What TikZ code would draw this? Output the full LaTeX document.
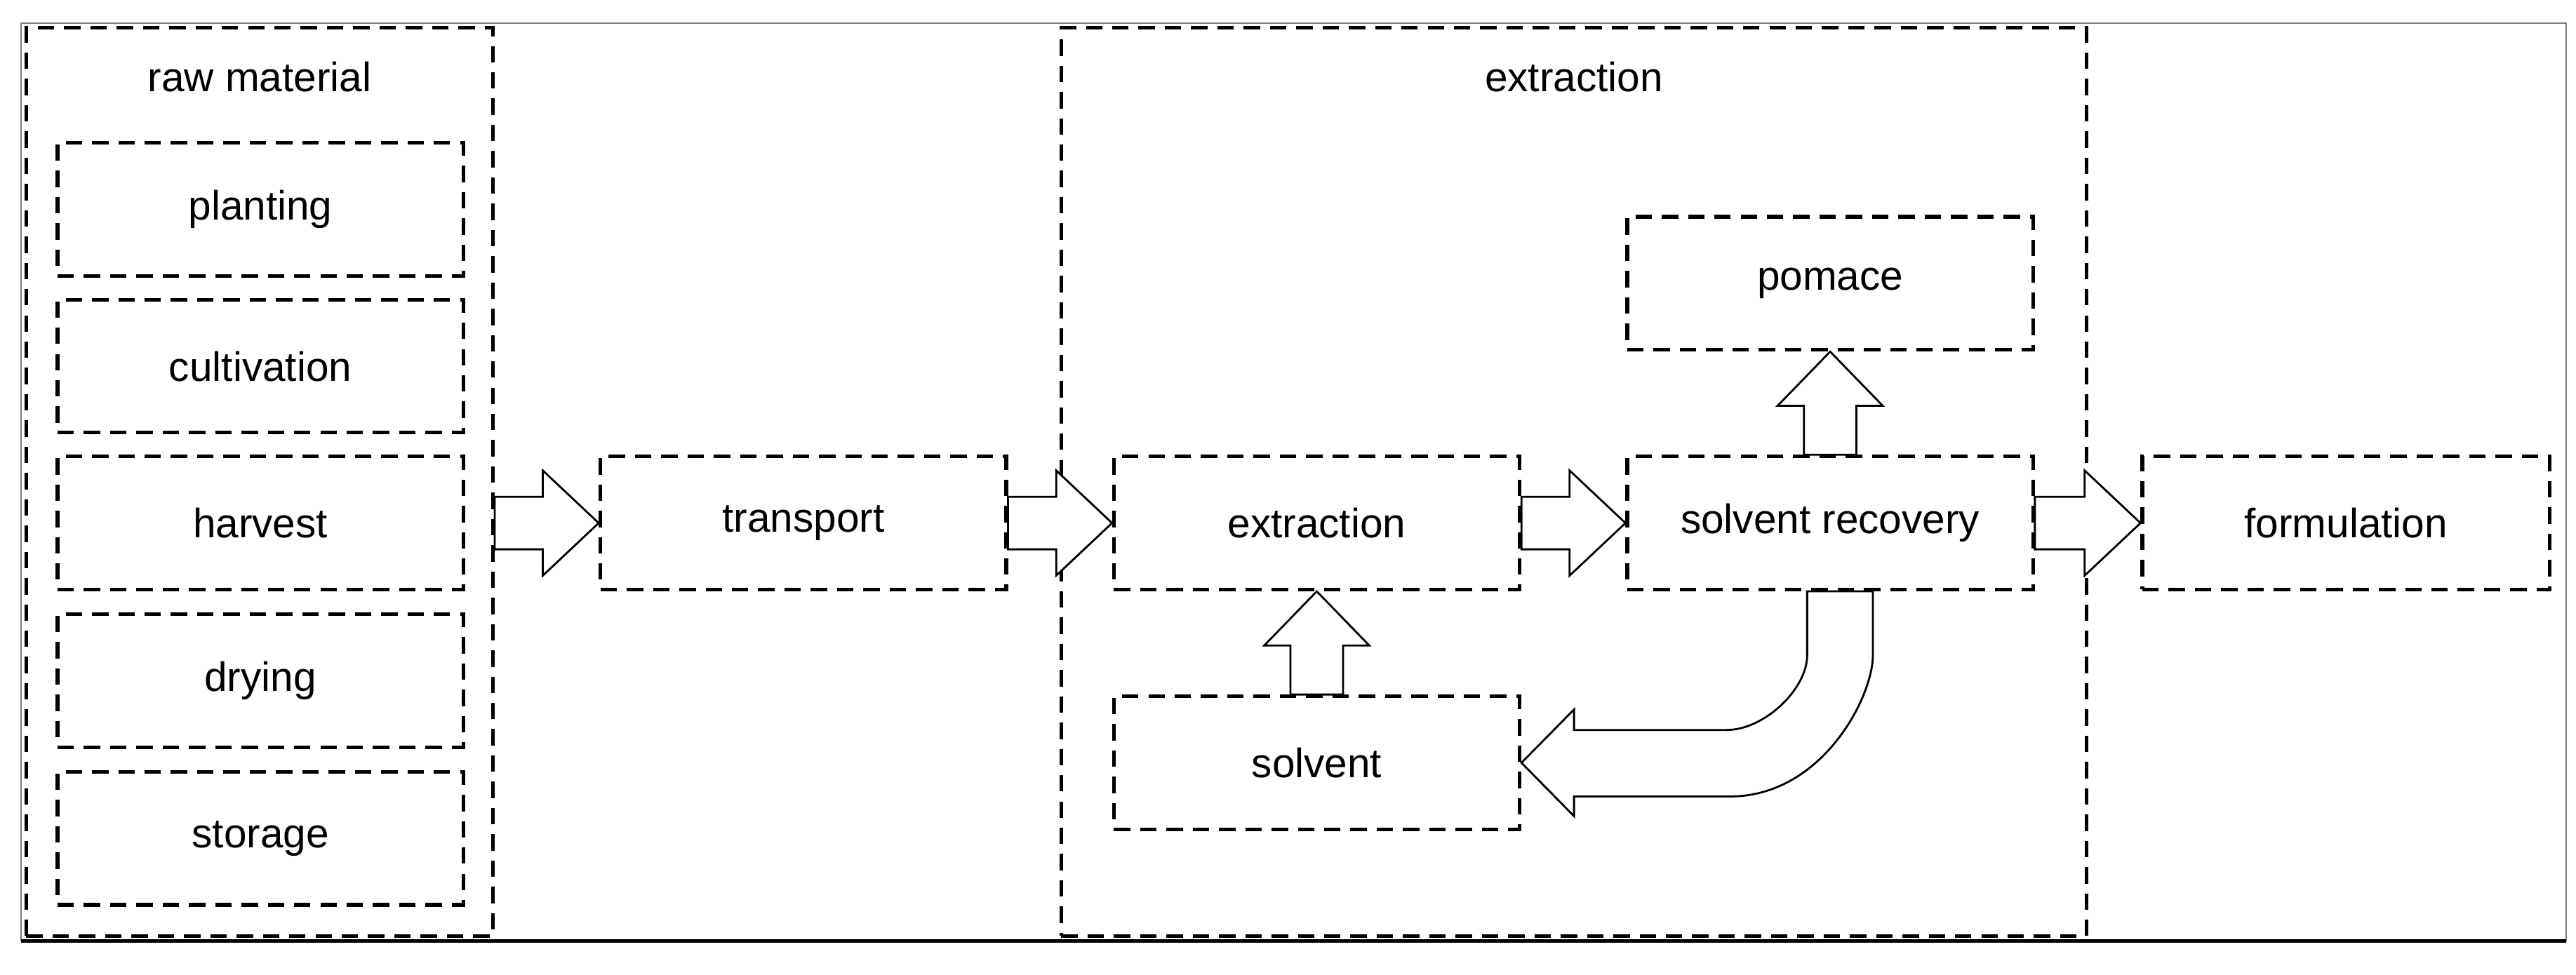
\documentclass[tikz,border=0pt]{standalone}
\usepackage{fontspec}
\setmainfont{Liberation Sans}
\usetikzlibrary{calc}
\begin{document}
\begin{tikzpicture}[x=1pt,y=-1pt,
  box/.style={draw,dashed,line width=2.2pt,dash pattern=on 10pt off 6pt,minimum width=247pt,minimum height=81pt,font=\fontsize{25}{28}\selectfont,inner sep=0pt},
  grp/.style={draw,dashed,line width=2.2pt,dash pattern=on 10pt off 6pt},
  lbl/.style={font=\fontsize{25}{28}\selectfont},
  blk/.style={draw,fill=white,line width=1.2pt,line join=miter}]
\useasboundingbox (0,0) rectangle (1568,593.3);
\draw[gray,line width=0.8pt] (13,14) rectangle (1562,573);
\draw[line width=1.8pt] (13,573) -- (1562,573);
\node[grp,minimum width=284pt,minimum height=553pt] (rawg) at (158,293.5) {};
\node[lbl] (rawl) at (158,47) {raw material};
\node[box] (plant) at (158.5,127.5) {planting};
\node[box] (cult) at (158.5,223) {cultivation};
\node[box] (harv) at (158.5,318.5) {harvest};
\node[box] (dry) at (158.5,414.5) {drying};
\node[box] (stor) at (158.5,510.5) {storage};
\node[box] (trans) at (489,318.5) {transport};
\node[grp,minimum width=624pt,minimum height=553pt] (extg) at (958,293.5) {};
\node[lbl] (extl) at (958,47) {extraction};
\node[box] (ext) at (801.5,318.5) {extraction};
\node[box] (pom) at (1114,172.5) {pomace};
\node[box] (sr) at (1114,318.5) {solvent recovery};
\node[box,minimum width=248pt] (form) at (1428,318.5) {formulation};
\node[box] (solv) at (801.5,464.5) {solvent};
\newcommand\rblk[2]{\draw[blk] let \p1=(#1), \p2=(#2) in
  (\x1,\y1+16) -- (\x2-34,\y1+16) -- (\x2-34,\y1+32) -- (\x2,\y1) -- (\x2-34,\y1-32) -- (\x2-34,\y1-16) -- (\x1,\y1-16) -- cycle;}
\newcommand\ublk[2]{\draw[blk] let \p1=(#1), \p2=(#2) in
  (\x1-16,\y1) -- (\x1-16,\y2-33) -- (\x1-32,\y2-33) -- (\x1,\y2) -- (\x1+32,\y2-33) -- (\x1+16,\y2-33) -- (\x1+16,\y1) -- cycle;}
\rblk{rawg.east |- harv.east}{trans.west}
\rblk{trans.east}{ext.west}
\rblk{ext.east}{sr.west}
\rblk{sr.east}{form.west}
\ublk{solv.north}{ext.south}
\ublk{sr.north}{pom.south}
\draw[blk] let \p1=(sr.south), \p2=(solv.east) in
  (\x1-14,\y1) -- (\x1-14,\y1-39) .. controls (\x1-14,\y2+45) and (\x1-40,\y2+20) .. (\x1-63,\y2+20)
  -- (\x2+32,\y2+20) -- (\x2+32,\y2+32.5) -- (\x2,\y2) -- (\x2+32,\y2-32.5) -- (\x2+32,\y2-20.5)
  -- (\x1-61,\y2-20.5) .. controls (\x1-5,\y2-20.5) and (\x1+26,\y2+40) .. (\x1+26,\y1-39)
  -- (\x1+26,\y1) -- cycle;
\end{tikzpicture}
\end{document}
